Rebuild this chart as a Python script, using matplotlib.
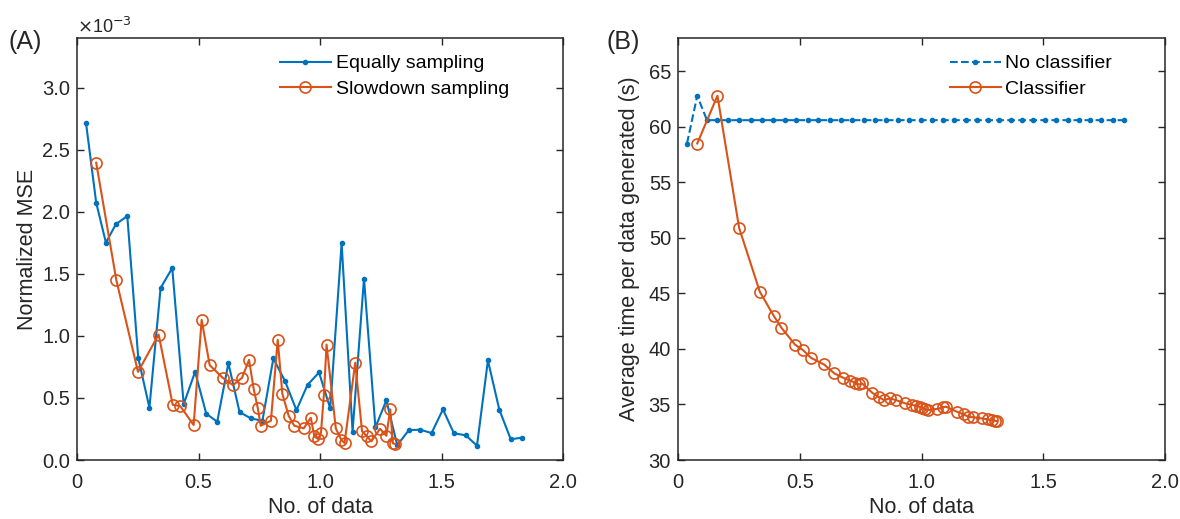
import matplotlib
matplotlib.use("Agg")
import matplotlib.pyplot as plt

plt.rcParams['font.family'] = ['Liberation Sans', 'DejaVu Sans']

# --- donnees ---
# (A) Normalized MSE (x 1e-3)
x_equal = [0.037, 0.079, 0.119, 0.160, 0.207, 0.252, 0.298, 0.344, 0.392, 0.439,
           0.486, 0.532, 0.577, 0.623, 0.669, 0.716, 0.763, 0.808, 0.856, 0.903,
           0.949, 0.996, 1.042, 1.089, 1.134, 1.181, 1.228, 1.273, 1.318, 1.366,
           1.413, 1.459, 1.506, 1.551, 1.600, 1.646, 1.691, 1.738, 1.785, 1.831]
mse_equal = [2.717, 2.073, 1.751, 1.900, 1.965, 0.823, 0.421, 1.386, 1.547, 0.450,
             0.710, 0.373, 0.308, 0.780, 0.386, 0.335, 0.316, 0.818, 0.636, 0.402,
             0.606, 0.705, 0.416, 1.748, 0.228, 1.462, 0.263, 0.480, 0.120, 0.241,
             0.244, 0.217, 0.408, 0.215, 0.199, 0.115, 0.802, 0.405, 0.167, 0.180]

x_slow = [0.079, 0.162, 0.251, 0.336, 0.394, 0.425, 0.480, 0.513, 0.546, 0.600,
          0.642, 0.679, 0.708, 0.727, 0.744, 0.756, 0.798, 0.826, 0.845, 0.871,
          0.894, 0.933, 0.962, 0.977, 0.992, 1.004, 1.016, 1.027, 1.065, 1.088,
          1.101, 1.145, 1.173, 1.192, 1.211, 1.247, 1.273, 1.289, 1.300, 1.310]
mse_slow = [2.395, 1.448, 0.710, 1.011, 0.445, 0.434, 0.282, 1.129, 0.764, 0.662,
            0.603, 0.662, 0.807, 0.574, 0.418, 0.276, 0.316, 0.968, 0.533, 0.356,
            0.276, 0.255, 0.340, 0.190, 0.169, 0.220, 0.525, 0.930, 0.255, 0.161,
            0.137, 0.783, 0.231, 0.195, 0.150, 0.252, 0.195, 0.408, 0.134, 0.129]

# (B) temps moyen par donnee generee (s)
t_noclf = [58.5, 62.8] + [60.6] * 38
t_clf = [58.5, 62.8, 50.9, 45.15, 42.95, 41.9, 40.4, 39.9, 39.2, 38.6,
         37.8, 37.4, 37.15, 36.95, 36.8, 36.9, 36.05, 35.65, 35.4, 35.55,
         35.4, 35.1, 34.95, 34.9, 34.8, 34.7, 34.55, 34.5, 34.6, 34.75,
         34.8, 34.35, 34.1, 33.9, 33.85, 33.75, 33.65, 33.6, 33.55, 33.5]

xticks = [0, 0.5, 1.0, 1.5, 2.0]
xtick_labels = ["0", "0.5", "1.0", "1.5", "2.0"]

blue = "#0072BD"
orange = "#D95319"
dark = "#262626"

fig = plt.figure(figsize=(11.8, 5.19), dpi=100)
axA = fig.add_axes([77/1180, 1 - 460/519, 486/1180, 422/519])
axB = fig.add_axes([678/1180, 1 - 460/519, 487/1180, 422/519])


def style(ax):
    ax.tick_params(direction='in', top=True, right=True, labelsize=14.5,
                   colors=dark, length=5, width=1)
    ax.tick_params(axis='x', pad=9)
    ax.tick_params(axis='y', pad=5)
    for s in ax.spines.values():
        s.set_color(dark)
        s.set_linewidth(1.1)


# === (A) ===
axA.plot(x_equal, mse_equal, color=blue, marker='.', markersize=6, lw=1.5,
         label="Equally sampling")
axA.plot(x_slow, mse_slow, color=orange, marker='o', markersize=8, mfc='none',
         mew=1.2, lw=1.5, label="Slowdown sampling")
axA.set_xlim(0, 2.0)
axA.set_ylim(0, 3.4)
axA.set_xticks(xticks)
axA.set_xticklabels(xtick_labels)
axA.set_yticks([0, 0.5, 1.0, 1.5, 2.0, 2.5, 3.0])
axA.set_yticklabels(["0.0", "0.5", "1.0", "1.5", "2.0", "2.5", "3.0"])
axA.set_xlabel("No. of data", fontsize=15.5, color=dark, labelpad=4)
axA.set_ylabel("Normalized MSE", fontsize=15.5, color=dark, labelpad=3)
style(axA)
axA.legend(loc='upper left', bbox_to_anchor=(0.418, 0.96), frameon=False,
           fontsize=14, handlelength=2.6, handletextpad=0.25, borderpad=0,
           borderaxespad=0, labelspacing=0.4)
fig.text(77/1180, 1 - 27/519, r"$\times$10$^{-3}$", fontsize=13, color=dark,
         va='center', ha='left')

# === (B) ===
axB.plot(x_equal, t_noclf, color=blue, marker='.', markersize=6, lw=1.5,
         ls='--', label="No classifier")
axB.plot(x_slow, t_clf, color=orange, marker='o', markersize=8, mfc='none',
         mew=1.2, lw=1.5, label="Classifier")
axB.set_xlim(0, 2.0)
axB.set_ylim(30, 68)
axB.set_xticks(xticks)
axB.set_xticklabels(xtick_labels)
axB.set_yticks(range(30, 66, 5))
axB.set_xlabel("No. of data", fontsize=15.5, color=dark, labelpad=4)
axB.set_ylabel("Average time per data generated (s)", fontsize=15.5,
               color=dark, labelpad=6)
style(axB)
axB.legend(loc='upper left', bbox_to_anchor=(0.5585, 0.96), frameon=False,
           fontsize=14, handlelength=2.6, handletextpad=0.25, borderpad=0,
           borderaxespad=0, labelspacing=0.4)

fig.text(8/1180, 1 - 42/519, "(A)", fontsize=18, color=dark, va='center')
fig.text(606/1180, 1 - 42/519, "(B)", fontsize=18, color=dark, va='center')

plt.savefig("out.png", dpi=100)
